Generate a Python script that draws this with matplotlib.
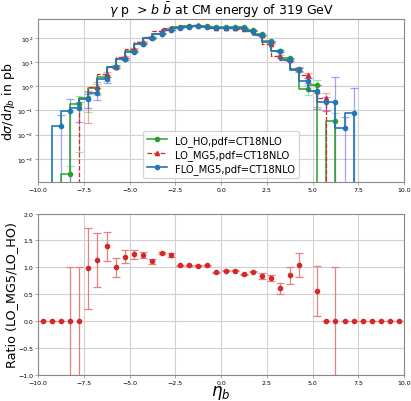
import numpy as np
import matplotlib
matplotlib.use("Agg")
import matplotlib.pyplot as plt

# ---------------- data ----------------
eta = [-9.75, -9.25, -8.75, -8.25, -7.75, -7.25, -6.75, -6.25, -5.75, -5.25,
       -4.75, -4.25, -3.75, -3.25, -2.75, -2.25, -1.75, -1.25, -0.75, -0.25,
       0.25, 0.75, 1.25, 1.75, 2.25, 2.75, 3.25, 3.75, 4.25, 4.75,
       5.25, 5.75, 6.25, 6.75, 7.25, 7.75, 8.25, 8.75, 9.25, 9.75]

lo_ho = [0, 0, 0, 2.5e-4, 0.19, 0.34, 0.85, 2.3, 6.5, 13.5,
         29, 57, 98, 150, 215, 270, 300, 320, 300, 280,
         270, 280, 270, 210, 150, 72, 28, 14, 5.0, 0.8,
         1.15, 0, 0.038, 0, 0, 0, 0, 0, 0, 0]
lo_ho_err = [0, 0, 0, 2.5e-4, 0.188, 0.25, 0.43, 0.6, 1.0, 1.3,
             2, 3, 3.5, 4, 5, 5, 5, 5, 5, 5,
             5, 5, 5, 5, 4, 3, 2, 1.2, 0.6, 0.38,
             0.6, 0, 0.04, 0, 0, 0, 0, 0, 0, 0]

lo_mg5 = [0, 0, 0, 0, 0, 0.33, 0.97, 3.2, 6.5, 16,
          36, 70, 109, 189, 265, 281, 312, 331, 312, 255,
          252, 263, 235, 193, 126, 58, 17, 12, 5.2, 2.9,
          0.64, 0.32, 0, 0, 0, 0, 0, 0, 0, 0]
lo_mg5_err = [0, 0, 0, 0, 0, 0.3, 0.5, 0.8, 1.0, 1.5,
              2.5, 3.5, 4, 5, 6, 6, 6, 6, 6, 6,
              6, 6, 6, 5, 4, 3, 2, 1.2, 0.8, 0.7,
              0.5, 0.22, 0, 0, 0, 0, 0, 0, 0, 0]

flo_mg5 = [0, 0, 0.023, 0.095, 0.125, 0.31, 0.55, 1.9, 6.3, 13,
           27, 57, 96, 148, 210, 263, 290, 310, 290, 263,
           250, 263, 250, 195, 128, 68, 29, 12.5, 4.8, 1.7,
           0.62, 0.22, 0.22, 0.019, 0.078, 0, 0, 0, 0, 0]
flo_mg5_err = [0, 0, 0.044, 0.195, 0.09, 0.18, 0.29, 0.5, 0.8, 1.2,
               2, 3, 4, 5, 6, 7, 7, 7, 7, 7,
               7, 7, 7, 6, 5, 4, 2.5, 1.5, 0.8, 0.4,
               0.5, 0.125, 2.2, 0.034, 0.8, 0, 0, 0, 0, 0]

ratio = [0, 0, 0, 0, 0, 0.98, 1.14, 1.39, 1.0, 1.2,
         1.24, 1.23, 1.11, 1.26, 1.23, 1.04, 1.04, 1.035, 1.04, 0.91,
         0.935, 0.94, 0.87, 0.92, 0.84, 0.81, 0.61, 0.85, 1.04, 3.6,
         0.56, 0, 0, 0, 0, 0, 0, 0, 0, 0]
ratio_err = [0, 0, 0, 1.0, 1.0, 0.76, 0.5, 0.27, 0.18, 0.12,
             0.09, 0.06, 0.04, 0.02, 0.03, 0.01, 0.01, 0.01, 0.01, 0.01,
             0.01, 0.01, 0.01, 0.01, 0.05, 0.055, 0.1, 0.16, 0.22, 0.9,
             0.46, 0, 1.0, 0, 0, 0, 0, 0, 0, 0]

xticks = [-10.0, -7.5, -5.0, -2.5, 0.0, 2.5, 5.0, 7.5, 10.0]
labels = ["LO_HO,pdf=CT18NLO", "LO_MG5,pdf=CT18NLO", "FLO_MG5,pdf=CT18NLO"]

# ---------------- figure ----------------
fig = plt.figure(figsize=(4.11, 4.02), dpi=100)
ax1 = fig.add_axes([0.0925, 0.5455, 0.8905, 0.4045])
ax2 = fig.add_axes([0.0925, 0.0647, 0.8905, 0.4015])

green = "#2ca02c"
red = "#d62728"
blue = "#1f77b4"

x = np.array(eta)

def yv(a):
    return np.array(a, dtype=float)

# error bars
ax1.errorbar(x, yv(lo_ho), yerr=yv(lo_ho_err), fmt="none", ecolor="#33cc33",
             alpha=0.45, capsize=3, elinewidth=0.9, capthick=0.9)
ax1.errorbar(x, yv(lo_mg5), yerr=yv(lo_mg5_err), fmt="none", ecolor="#ff3333",
             alpha=0.45, capsize=3, elinewidth=0.9, capthick=0.9)
ax1.errorbar(x, yv(flo_mg5), yerr=yv(flo_mg5_err), fmt="none", ecolor="#3333ff",
             alpha=0.45, capsize=3, elinewidth=0.9, capthick=0.9)

ax1.plot(x, yv(lo_ho), drawstyle="steps-pre", color=green, marker="o", ms=3,
         lw=1.1, label=labels[0])
ax1.plot(x, yv(lo_mg5), drawstyle="steps-pre", color=red, marker="^", ms=3,
         lw=0.9, ls="--", label=labels[1])
ax1.plot(x, yv(flo_mg5), drawstyle="steps-pre", color=blue, marker="o", ms=3,
         lw=1.2, label=labels[2])

ax1.set_yscale("log", nonpositive="clip")
ax1.set_xlim(-10, 10)
ax1.set_ylim(1.15e-4, 590)
ax1.set_xticks(xticks)
ax1.grid(True, color="#d0d0d0", lw=0.8)
ax1.set_axisbelow(True)
ax1.set_ylabel(r"d$\sigma$/d$\eta_b$ in pb", fontsize=9)
ax1.yaxis.set_label_coords(-0.057, 0.5)
ax1.set_title(r"$\gamma$ p  > $b$ $\bar{b}$ at CM energy of 319 GeV", fontsize=9, pad=3)
ax1.legend(loc="lower center", fontsize=7.2, framealpha=0.8, borderaxespad=0.4,
           handlelength=2.0, labelspacing=0.3)

# ratio
ax2.errorbar(x, yv(ratio), yerr=yv(ratio_err), fmt="o", color=red, ms=3,
             ecolor="#e88080", elinewidth=0.9, capsize=3, capthick=0.9)
ax2.set_xlim(-10, 10)
ax2.set_ylim(-1, 2)
ax2.set_xticks(xticks)
ax2.set_yticks([-1.0, -0.5, 0.0, 0.5, 1.0, 1.5, 2.0])
ax2.grid(True, color="#d0d0d0", lw=0.8)
ax2.set_axisbelow(True)
ax2.set_ylabel("Ratio (LO_MG5/LO_HO)", fontsize=9.2)
ax2.yaxis.set_label_coords(-0.055, 0.5)
ax2.set_xlabel(r"$\eta_b$", fontsize=12, labelpad=-1)

for ax in (ax1, ax2):
    ax.tick_params(labelsize=4.5, length=2, width=0.5, pad=1.5, color="#888888")
    ax.tick_params(which="minor", length=0)
    for s in ax.spines.values():
        s.set_color("#888888")
        s.set_linewidth(0.8)

fig.savefig("out.png", dpi=100)
